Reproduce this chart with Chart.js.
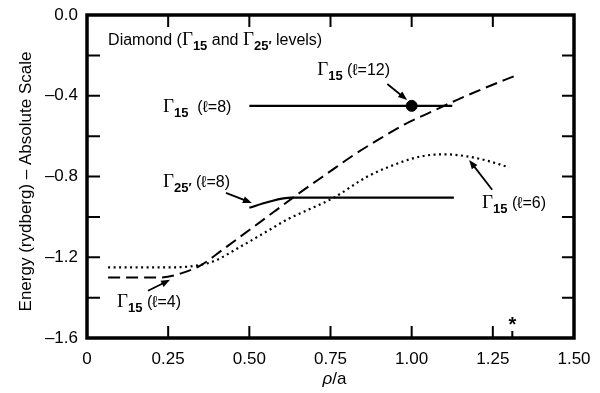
<!DOCTYPE html>
<html>
<head>
<meta charset="utf-8">
<script src="https://cdn.jsdelivr.net/npm/chart.js@4.4.1/dist/chart.umd.min.js"></script>
<style>
  html, body { margin: 0; padding: 0; background: #fff; }
  #wrap { width: 600px; height: 393px; }
</style>
</head>
<body>
<div id="wrap"><canvas id="c" width="600" height="393"></canvas></div>
<script>
// 곡선 데이터 (ρ/a, rydberg)
const dashX = [0.065, 0.15, 0.225, 0.29, 0.35, 0.42, 0.5, 0.58, 0.66, 0.74, 0.82, 0.9, 0.98, 1.06, 1.14, 1.22, 1.32];
const dashY = [-1.30, -1.30, -1.30, -1.28, -1.24, -1.16, -1.065, -0.97, -0.875, -0.785, -0.695, -0.615, -0.54, -0.48, -0.42, -0.365, -0.30];

const dotX = [0.065, 0.15, 0.25, 0.32, 0.39, 0.47, 0.556, 0.62, 0.688, 0.76, 0.864, 0.966, 1.03, 1.1, 1.17, 1.24, 1.30];
const dotY = [-1.25, -1.25, -1.25, -1.245, -1.22, -1.15, -1.07, -1.01, -0.96, -0.905, -0.80, -0.73, -0.70, -0.69, -0.70, -0.725, -0.755];

const g25X = [0.5, 0.56, 0.63, 1.13];
const g25Y = [-0.955, -0.925, -0.905, -0.905];

const g15X = [0.5, 1.125];
const g15Y = [-0.45, -0.45];

const ptX = [1.0];
const ptY = [-0.45];

const xTickValues = [0, 0.25, 0.5, 0.75, 1.0, 1.25, 1.5];
const yLabelValues = [0, -0.4, -0.8, -1.2, -1.6];
const starX = 1.31;

const SANS = '"Liberation Sans", Arial, sans-serif';
const SERIF = '"Liberation Serif", "Times New Roman", serif';
const INK = '#000';

function pts(xs, ys) {
    return xs.map((x, i) => ({ x: x, y: ys[i] }));
}

// 라벨: [텍스트 조각들], 위치는 데이터 좌표 (Γ 왼쪽 기준선)
const labels = [
    { x: 0.065, y: -0.149, parts: [['Diamond (', 'n'], ['Γ', 'g'], ['15', 's'], [' and ', 'n'], ['Γ', 'g'], ['25′', 's'], [' levels)', 'n']] },
    { x: 0.234, y: -0.48, parts: [['Γ', 'g'], ['15', 's'], ['  (ℓ=8)', 'n']] },
    { x: 0.234, y: -0.851, parts: [['Γ', 'g'], ['25′', 's'], [' (ℓ=8)', 'n']] },
    { x: 0.709, y: -0.297, parts: [['Γ', 'g'], ['15', 's'], [' (ℓ=12)', 'n']] },
    { x: 1.217, y: -0.955, parts: [['Γ', 'g'], ['15', 's'], [' (ℓ=6)', 'n']] },
    { x: 0.0925, y: -1.446, parts: [['Γ', 'g'], ['15', 's'], [' (ℓ=4)', 'n']] }
];

const arrows = [
    [0.925, -0.342, 0.986, -0.421],
    [0.428, -0.881, 0.508, -0.931],
    [1.248, -0.866, 1.177, -0.718],
    [0.188, -1.366, 0.256, -1.312]
];

function drawRich(ctx, x, y, parts) {
    let cx = x;
    parts.forEach(([t, kind]) => {
        let dy = 0;
        if (kind === 'g') ctx.font = '19px ' + SERIF;
        else if (kind === 's') { ctx.font = 'bold 13px ' + SANS; dy = 5; }
        else ctx.font = '16px ' + SANS;
        ctx.fillText(t, cx, y + dy);
        cx += ctx.measureText(t).width;
    });
}

function drawArrow(ctx, x1, y1, x2, y2) {
    const ang = Math.atan2(y2 - y1, x2 - x1);
    const hl = 9, hw = 3.5;
    ctx.beginPath();
    ctx.moveTo(x1, y1);
    ctx.lineTo(x2 - Math.cos(ang) * hl * 0.8, y2 - Math.sin(ang) * hl * 0.8);
    ctx.lineWidth = 1.8;
    ctx.stroke();
    ctx.beginPath();
    ctx.moveTo(x2, y2);
    ctx.lineTo(x2 - Math.cos(ang) * hl - Math.sin(ang) * hw, y2 - Math.sin(ang) * hl + Math.cos(ang) * hw);
    ctx.lineTo(x2 - Math.cos(ang) * hl + Math.sin(ang) * hw, y2 - Math.sin(ang) * hl - Math.cos(ang) * hw);
    ctx.closePath();
    ctx.fill();
}

const framePlugin = {
    id: 'frame',
    afterDatasetsDraw(chart) {
        const ctx = chart.ctx;
        const a = chart.chartArea;
        const xs = chart.scales.x, ys = chart.scales.y;
        ctx.save();
        ctx.strokeStyle = INK;
        ctx.fillStyle = INK;

        // 테두리
        ctx.lineWidth = 3.5;
        ctx.strokeRect(a.left, a.top, a.right - a.left, a.bottom - a.top);

        // 안쪽 눈금
        ctx.lineWidth = 2;
        ctx.beginPath();
        xTickValues.slice(1, -1).forEach(v => {
            const px = xs.getPixelForValue(v);
            ctx.moveTo(px, a.bottom); ctx.lineTo(px, a.bottom - 12);
            ctx.moveTo(px, a.top); ctx.lineTo(px, a.top + 12);
        });
        for (let i = 1; i < 8; i++) {
            const py = ys.getPixelForValue(-0.2 * i);
            ctx.moveTo(a.left, py); ctx.lineTo(a.left + 13, py);
            ctx.moveTo(a.right, py); ctx.lineTo(a.right - 12, py);
        }
        // * 표시 눈금
        const sx = xs.getPixelForValue(starX);
        ctx.moveTo(sx, a.bottom); ctx.lineTo(sx, a.bottom - 7);
        ctx.stroke();

        ctx.textBaseline = 'alphabetic';
        ctx.textAlign = 'center';
        ctx.font = 'bold 20px ' + SANS;
        ctx.fillText('*', sx, a.bottom - 7);

        // 화살표
        arrows.forEach(r => {
            drawArrow(ctx, xs.getPixelForValue(r[0]), ys.getPixelForValue(r[1]),
                xs.getPixelForValue(r[2]), ys.getPixelForValue(r[3]));
        });

        // 라벨
        ctx.textAlign = 'left';
        labels.forEach(l => {
            drawRich(ctx, xs.getPixelForValue(l.x), ys.getPixelForValue(l.y), l.parts);
        });

        // 축 제목
        ctx.font = 'italic 17px ' + SANS;
        const rho = 'ρ';
        const tx = (a.left + a.right) / 2 + 4;
        const w1 = ctx.measureText(rho).width;
        ctx.font = '17px ' + SANS;
        const w2 = ctx.measureText('/a').width;
        const start = tx - (w1 + w2) / 2;
        ctx.font = 'italic 17px ' + SANS;
        ctx.fillText(rho, start, 384);
        ctx.font = '17px ' + SANS;
        ctx.fillText('/a', start + w1, 384);

        ctx.translate(31, (a.top + a.bottom) / 2 + 5);
        ctx.rotate(-Math.PI / 2);
        ctx.textAlign = 'center';
        ctx.font = '17px ' + SANS;
        ctx.fillText('Energy (rydberg) – Absolute Scale', 0, 0);
        ctx.restore();
    }
};

function lineSet(xs, ys, dash, width) {
    return {
        data: pts(xs, ys),
        showLine: true,
        borderColor: INK,
        borderWidth: width,
        borderDash: dash,
        pointRadius: 0,
        fill: false,
        cubicInterpolationMode: 'monotone',
        tension: 0.4
    };
}

const ctx = document.getElementById('c').getContext('2d');
const chart = new Chart(ctx, {
    type: 'scatter',
    data: {
        datasets: [
            lineSet(dashX, dashY, [12, 6], 2),
            lineSet(dotX, dotY, [2, 3.5], 2.2),
            lineSet(g25X, g25Y, [], 2.2),
            lineSet(g15X, g15Y, [], 2.2),
            {
                data: pts(ptX, ptY),
                pointRadius: 5.5,
                pointBackgroundColor: INK,
                pointBorderColor: INK,
                showLine: false
            }
        ]
    },
    options: {
        responsive: false,
        animation: false,
        layout: { padding: { top: 15, right: 26, left: 0, bottom: 0 } },
        plugins: {
            legend: { display: false },
            tooltip: { enabled: false }
        },
        scales: {
            x: {
                type: 'linear',
                min: 0,
                max: 1.5,
                afterFit: s => { s.height = 55; },
                afterBuildTicks: s => { s.ticks = xTickValues.map(v => ({ value: v })); },
                grid: { display: false },
                border: { display: false },
                ticks: {
                    color: INK,
                    padding: 3,
                    maxRotation: 0,
                    font: { family: SANS, size: 17 },
                    callback: v => v === 0 ? '0' : v.toFixed(2)
                }
            },
            y: {
                type: 'linear',
                min: -1.6,
                max: 0,
                afterFit: s => { s.width = 87; },
                afterBuildTicks: s => { s.ticks = yLabelValues.map(v => ({ value: v })); },
                grid: { display: false },
                border: { display: false },
                ticks: {
                    color: INK,
                    padding: 1,
                    font: { family: SANS, size: 17 },
                    callback: v => v === 0 ? '0.0' : '–' + Math.abs(v).toFixed(1)
                }
            }
        }
    },
    plugins: [framePlugin]
});
</script>
</body>
</html>
